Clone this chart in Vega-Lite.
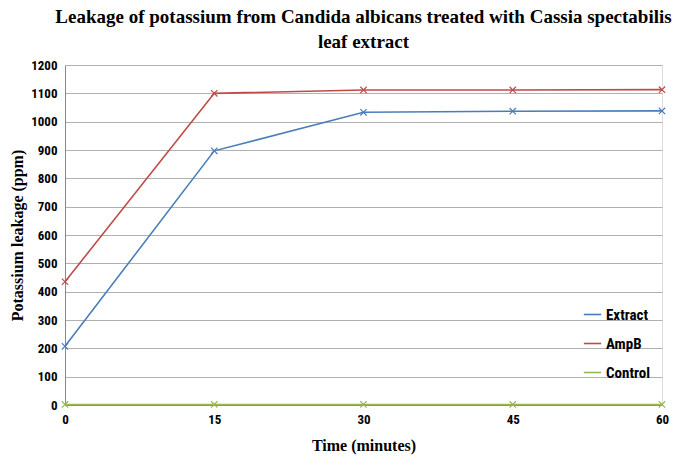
{
  "$schema": "https://vega.github.io/schema/vega-lite/v6.json",
  "width": 597,
  "height": 340,
  "autosize": "none",
  "padding": {"left": 65, "top": 65, "right": 18, "bottom": 55},
  "background": "white",
  "title": {
    "text": ["Leakage of potassium from Candida albicans treated with Cassia spectabilis", "leaf extract"],
    "font": "Times New Roman, Liberation Serif, serif",
    "fontSize": 19,
    "fontWeight": "bold",
    "color": "#000000",
    "anchor": "middle",
    "offset": 7,
    "lineHeight": 25
  },
  "data": {
    "values": [
      {"time": 0, "series": "Extract", "value": 207},
      {"time": 15, "series": "Extract", "value": 897},
      {"time": 30, "series": "Extract", "value": 1033},
      {"time": 45, "series": "Extract", "value": 1037},
      {"time": 60, "series": "Extract", "value": 1038},
      {"time": 0, "series": "AmpB", "value": 435},
      {"time": 15, "series": "AmpB", "value": 1100},
      {"time": 30, "series": "AmpB", "value": 1112},
      {"time": 45, "series": "AmpB", "value": 1112},
      {"time": 60, "series": "AmpB", "value": 1113},
      {"time": 0, "series": "Control", "value": 2},
      {"time": 15, "series": "Control", "value": 2},
      {"time": 30, "series": "Control", "value": 2},
      {"time": 45, "series": "Control", "value": 2},
      {"time": 60, "series": "Control", "value": 2}
    ]
  },
  "encoding": {
    "x": {
      "field": "time", "type": "quantitative",
      "scale": {"domain": [0, 60], "nice": false},
      "axis": {
        "values": [0, 15, 30, 45, 60],
        "format": "d",
        "title": "Time (minutes)",
        "titleFont": "Times New Roman, Liberation Serif, serif", "titleFontSize": 16, "titleFontWeight": "bold", "titleColor": "#000",
        "titlePadding": 11,
        "labelFont": "Arial Narrow, Liberation Sans Narrow, Roboto Condensed, sans-serif", "labelFontSize": 13, "labelFontWeight": "bold", "labelColor": "#000",
        "labelPadding": 8,
        "grid": false, "ticks": false, "domainColor": "#888", "labelFlush": false
      }
    },
    "y": {
      "field": "value", "type": "quantitative",
      "scale": {"domain": [0, 1200], "nice": false},
      "axis": {
        "values": [0, 100, 200, 300, 400, 500, 600, 700, 800, 900, 1000, 1100, 1200],
        "format": "d",
        "title": "Potassium leakage (ppm)",
        "titleFont": "Times New Roman, Liberation Serif, serif", "titleFontSize": 16, "titleFontWeight": "bold", "titleColor": "#000",
        "titlePadding": 5,
        "labelFont": "Arial Narrow, Liberation Sans Narrow, Roboto Condensed, sans-serif", "labelFontSize": 13, "labelFontWeight": "bold", "labelColor": "#000",
        "labelPadding": 8,
        "grid": true, "gridColor": "#b0b0b0", "gridWidth": 1,
        "ticks": false, "domainColor": "#888"
      }
    },
    "color": {
      "field": "series", "type": "nominal",
      "scale": {"domain": ["Extract", "AmpB", "Control"], "range": ["#4a7ebb", "#be4b48", "#98b954"]},
      "legend": {
        "orient": "none", "legendX": 518, "legendY": 240,
        "title": null,
        "symbolType": "stroke", "symbolSize": 300, "symbolStrokeWidth": 2,
        "labelFont": "Arial Narrow, Liberation Sans Narrow, Roboto Condensed, sans-serif", "labelFontSize": 15, "labelFontWeight": "bold", "labelColor": "#000",
        "rowPadding": 11
      }
    }
  },
  "layer": [
    {
      "mark": {"type": "line"},
      "encoding": {
        "strokeWidth": {
          "field": "series", "type": "nominal",
          "scale": {"domain": ["Extract", "AmpB", "Control"], "range": [1.6, 1.6, 2.6]},
          "legend": null
        }
      }
    },
    {
      "mark": {"type": "point", "shape": "M-1,-1L1,1M-1,1L1,-1", "filled": false, "size": 40, "strokeWidth": 1.2, "opacity": 1}
    }
  ]
}
